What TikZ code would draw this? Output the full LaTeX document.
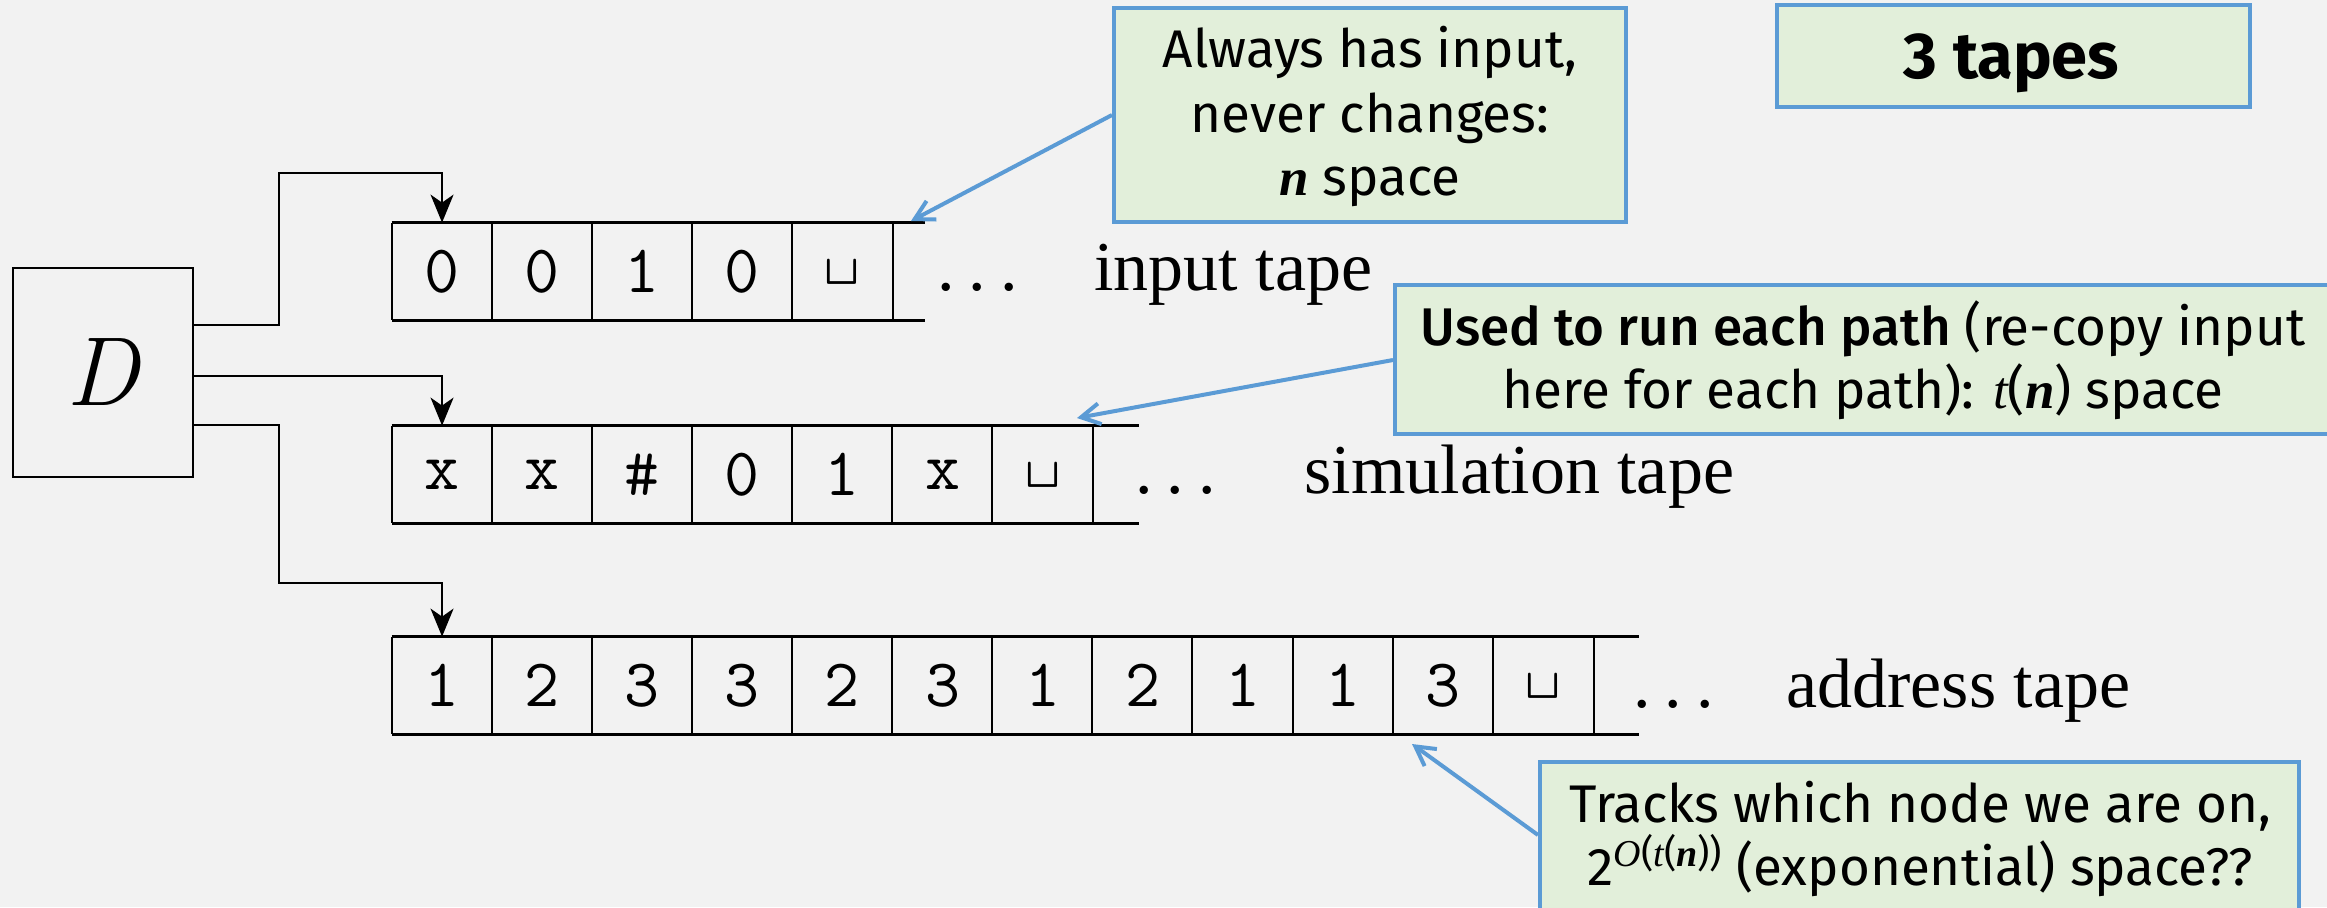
\documentclass[tikz,border=0pt]{standalone}
\usepackage{fontspec}
\setmainfont{Liberation Serif}
\newfontfamily\fira{Fira Sans}
\newfontfamily\firamed{Fira Sans Medium}
\newfontfamily\lmtt{Latin Modern Mono}
\newfontfamily\lmr{Latin Modern Roman}
\usetikzlibrary{arrows.meta}
\definecolor{bgcol}{HTML}{F2F2F2}
\definecolor{boxfill}{HTML}{E2EFDA}
\definecolor{boxline}{HTML}{5B9BD5}
\newcommand\myn{{\rmfamily\bfseries\itshape n}}
\newcommand\myt{{\rmfamily\itshape t}}
\newcommand\myO{{\rmfamily\itshape O}}
\newcommand\mydots{.\kern0.2em.\kern0.2em.}
\begin{document}
\begin{tikzpicture}[x=0.5pt,y=-0.5pt,
  cell/.style={minimum width=50.05pt, minimum height=48.5pt, inner sep=0pt,
    font=\lmtt\fontsize{34}{40}\selectfont},
  tapeh/.style={line width=1.6pt, black},
  tapev/.style={line width=1pt, black},
  lbl/.style={inner sep=0pt, anchor=base west, font=\fontsize{35}{42}\selectfont},
  blk/.style={line width=1pt, -{Stealth[length=14pt,width=11.5pt,inset=4pt]}},
  callout/.style={draw=boxline, fill=boxfill, line width=2pt, inner sep=0pt},
  ctext/.style={inner sep=0pt, anchor=base, font=\fira\fontsize{26.5}{32}\selectfont},
  carrow/.style={draw=boxline, line width=2pt, -{Straight Barb[length=9.5pt,width=10.5pt]}}
]
\fill[bgcol] (0,0) rectangle (2327,907);
\useasboundingbox (0,0) rectangle (2327,907);
\clip (0,0) rectangle (2327,907);

% D box
\node[draw, line width=1.35pt, minimum width=90pt, minimum height=104.5pt, inner sep=0pt,
  font=\lmr\itshape\fontsize{49}{56}\selectfont] (D) at (103,372.5) {D};

% input tape
\foreach \t [count=\k] in {0,0,1,0,\textvisiblespace}
  \node[cell] (i\k) at ({392+100.1*(\k-0.5)},271.5) {\t};
\coordinate (iend) at (925,0);
\draw[tapeh] (i1.north west) -- (i1.north west -| iend);
\draw[tapeh] (i1.south west) -- (i1.south west -| iend);
\foreach \k in {1,...,5} \draw[tapev] (i\k.north west) -- (i\k.south west);
\draw[tapev] (i5.north east) -- (i5.south east);
\node[lbl] (idots) at (937,290.5) {\mydots};
\node[lbl] (ilbl) at (1094,290.5) {input tape};

% simulation tape
\foreach \t [count=\k] in {x,x,\#,0,1,x,\textvisiblespace}
  \node[cell] (s\k) at ({392+100.1*(\k-0.5)},474.5) {\t};
\coordinate (send) at (1139,0);
\draw[tapeh] (s1.north west) -- (s1.north west -| send);
\draw[tapeh] (s1.south west) -- (s1.south west -| send);
\foreach \k in {1,...,7} \draw[tapev] (s\k.north west) -- (s\k.south west);
\draw[tapev] (s7.north east) -- (s7.south east);
\node[lbl] (sdots) at (1135,493.5) {\mydots};
\node[lbl] (slbl) at (1304,493.5) {simulation tape};

% address tape
\foreach \t [count=\k] in {1,2,3,3,2,3,1,2,1,1,3,\textvisiblespace}
  \node[cell] (a\k) at ({392+100.1*(\k-0.5)},685.5) {\t};
\coordinate (aend) at (1639,0);
\draw[tapeh] (a1.north west) -- (a1.north west -| aend);
\draw[tapeh] (a1.south west) -- (a1.south west -| aend);
\foreach \k in {1,...,12} \draw[tapev] (a\k.north west) -- (a\k.south west);
\draw[tapev] (a12.north east) -- (a12.south east);
\node[lbl] (adots) at (1633,707) {\mydots};
\node[lbl] (albl) at (1786,707) {address tape};

% connectors from D
\coordinate (k1) at (279,173);
\coordinate (k3) at (279,583);
\draw[blk] (D.east |- 0,325) -| (k1) -| (i1.north);
\draw[blk] (D.east |- 0,376) -| (s1.north);
\draw[blk] (D.east |- 0,425) -| (k3) -| (a1.north);

% callouts
\node[callout, minimum width=256pt, minimum height=107pt] (b1) at (1370,115) {};
\node[ctext] (b1a) at (1370,67) {Always has input,};
\node[ctext] (b1b) at (1370,132) {never changes:};
\node[ctext] (b1c) at (1370,195) {\myn{} space};

\node[callout, minimum width=236.5pt, minimum height=51pt] (b0) at (2013.5,56) {};
\node[ctext, font=\fira\bfseries\fontsize{32.5}{38}\selectfont] (b0t) at (2011.5,78) {3 tapes};

\node[callout, minimum width=468pt, minimum height=74.5pt] (b2) at (1863,359.5) {};
\node[ctext] (b2a) at (1863,345) {{\firamed Used to run each path} (re-copy input};
\node[ctext] (b2b) at (1863,408) {here for each path): \myt({\rmfamily\bfseries\itshape n}) space};

\node[callout, minimum width=379.5pt, minimum height=81.5pt] (b3) at (1919.5,843.5) {};
\node[ctext] (b3a) at (1920,822) {Tracks which node we are on,};
\node[ctext] (b3b) at (1920,885) {2{\fontsize{19}{20}\selectfont\raisebox{0.5em}{\myO(\myt(\myn))}} (exponential) space??};

% callout arrows
\coordinate (t1) at (911,221);
\coordinate (t2) at (1077,418);
\coordinate (t3) at (1412,744);
\draw[carrow] (b1.west |- 0,115) -- (t1);
\draw[carrow] (b2.west |- 0,360) -- (t2);
\draw[carrow] (b3.west |- 0,835) -- (t3);
\end{tikzpicture}
\end{document}
